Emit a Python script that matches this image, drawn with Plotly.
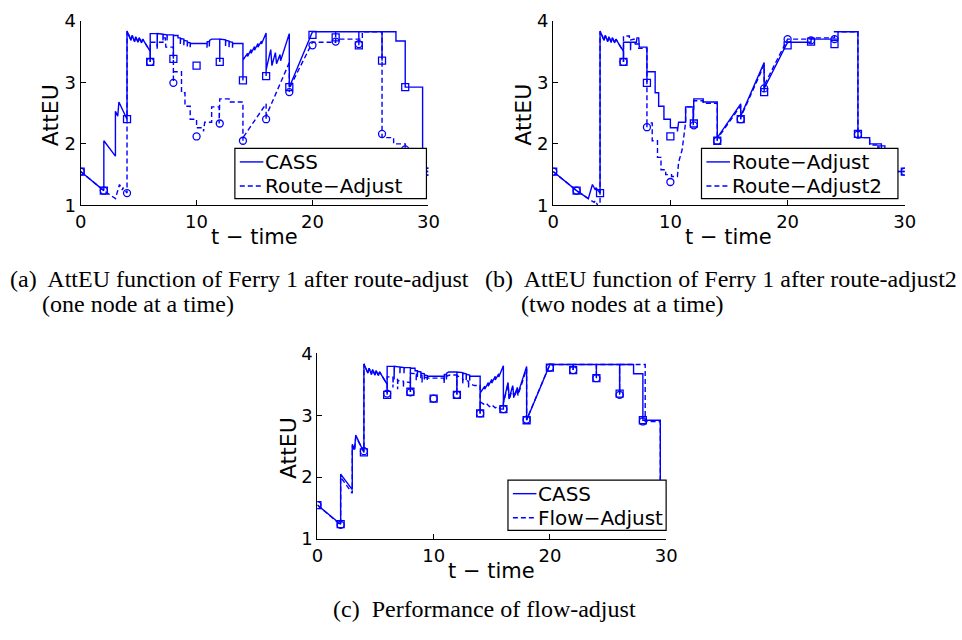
import plotly.graph_objects as go

W, H = 962, 640
BLUE = "#0000ff"

# ---------------- data ----------------
MARK_T = [0, 2, 4, 6, 8, 10, 12, 14, 16, 18, 20, 22, 24, 26, 28, 30]

CASS_MARK = [1.55, 1.24, 2.40, 3.33, 3.38, 3.27, 3.33, 3.03, 3.10, 2.92, 3.77, 3.73, 3.60, 3.35, 2.92, 1.55]
RA_MARK = [1.55, 1.24, 1.20, 3.33, 2.99, 2.12, 2.33, 2.05, 2.40, 2.84, 3.60, 3.66, 3.62, 2.16, 1.91, 1.55]
RA2_MARK = [1.55, 1.24, 0.90, 3.33, 2.27, 1.38, 2.30, 2.05, 2.40, 2.90, 3.70, 3.68, 3.70, 2.15, 1.61, 1.55]
FLOW_MARK = [1.55, 1.23, 2.42, 3.35, 3.37, 3.27, 3.33, 3.03, 3.10, 2.93, 3.77, 3.73, 3.60, 3.33, 2.90, 1.55]

CASS_T = [0, 2, 2, 3, 3, 3.2, 3.3, 4, 4,
          4.35, 4.45, 4.65, 4.75, 4.95, 5.05, 5.25, 5.35, 6, 6, 6,
          6.6, 6.6, 6.62, 7.1, 7.1, 7.12, 7.45, 7.45, 7.47, 8, 8, 8,
          8.4, 8.4, 8.6, 8.6, 8.62, 8.9, 8.9, 8.92, 9.2, 9.2, 9.22, 9.45, 9.45, 9.47,
          10.9, 10.9, 10.92, 11.1, 11.1, 11.12, 11.3, 12, 12, 12,
          12.5, 12.5, 12.52, 12.8, 12.8, 12.82, 13.1, 13.1, 13.12, 14, 14, 14,
          14.4, 14.4, 14.7, 14.7, 15.0, 15.0, 15.3, 15.3, 15.6, 15.6, 16, 16, 16,
          16.4, 16.5, 16.8, 16.9, 17.2, 17.25, 18, 18, 20,
          22, 22, 22, 24, 24, 24, 26, 26, 26, 27.2, 27.2, 28, 28, 29.5, 29.5, 30]
CASS_Y = [1.55, 1.24, 2.05, 1.80, 2.53, 2.45, 2.68, 2.40, 3.83,
          3.68, 3.76, 3.66, 3.74, 3.65, 3.72, 3.64, 3.70, 3.50, 3.33, 3.79,
          3.79, 3.58, 3.79, 3.78, 3.68, 3.78, 3.77, 3.68, 3.77, 3.77, 3.38, 3.76,
          3.76, 3.72, 3.72, 3.62, 3.71, 3.70, 3.60, 3.68, 3.67, 3.58, 3.65, 3.64, 3.57, 3.63,
          3.63, 3.56, 3.66, 3.66, 3.58, 3.68, 3.70, 3.70, 3.33, 3.70,
          3.69, 3.59, 3.68, 3.67, 3.57, 3.66, 3.65, 3.56, 3.63, 3.63, 3.03, 3.36,
          3.47, 3.42, 3.53, 3.47, 3.58, 3.52, 3.63, 3.57, 3.67, 3.62, 3.80, 3.10, 3.20,
          3.53, 3.27, 3.48, 3.30, 3.45, 3.35, 3.79, 2.92, 3.82,
          3.82, 3.73, 3.82, 3.82, 3.60, 3.82, 3.82, 3.35, 3.82, 3.82, 3.67, 3.67, 2.92, 2.92, 1.55, 1.55]

RA_T = [0, 2, 3, 3.35, 3.6, 3.65, 4, 4,
        4.35, 4.45, 4.65, 4.75, 4.95, 5.05, 5.25, 5.35, 6, 6, 6,
        6.6, 6.6, 6.62, 7.1, 7.15, 7.3, 7.3, 7.35, 8, 8, 8,
        8.7, 8.7, 9.0, 9.0, 9.45, 9.45, 10, 10, 10.6, 10.6, 10.7, 11.3, 11.3, 11.95, 11.95, 12,
        12.8, 12.8, 14, 14, 14, 16, 16, 16, 18, 18, 18, 20,
        22, 22, 24.3, 24.3, 26, 26, 26, 27, 27, 28, 28, 29.3, 29.3, 30]
RA_Y = [1.55, 1.24, 1.11, 1.34, 1.25, 1.29, 1.20, 3.83,
        3.68, 3.76, 3.66, 3.74, 3.65, 3.72, 3.64, 3.70, 3.50, 3.33, 3.65,
        3.65, 3.52, 3.65, 3.65, 3.72, 3.72, 3.60, 3.57, 3.57, 3.00, 3.17,
        3.17, 2.83, 2.83, 2.61, 2.61, 2.40, 2.40, 2.26, 2.26, 2.20, 2.35, 2.35, 2.60, 2.60, 2.33, 2.73,
        2.73, 2.68, 2.68, 2.05, 2.10, 2.65, 2.40, 2.45, 3.32, 2.84, 2.90, 3.65,
        3.65, 3.70, 3.70, 3.82, 3.82, 2.15, 2.10, 2.10, 2.00, 2.00, 1.90, 1.90, 1.55, 1.55]

RA2_T = [0, 2, 3, 3.5, 3.6, 4, 4,
         4.35, 4.45, 4.65, 4.75, 4.95, 5.05, 5.25, 5.35, 6, 6, 6,
         6.5, 6.5, 6.9, 7.0, 7.3, 7.3, 8, 8, 8,
         8.45, 8.45, 8.9, 8.9, 9.2, 9.2, 9.6, 9.6, 10.1, 10.1, 10.6, 10.7, 11.0, 11.3, 11.3, 11.95, 11.95, 12,
         12.8, 12.8, 14, 14, 14, 16, 16, 16, 18, 18, 18, 20,
         22, 22, 24, 24, 26, 26, 26, 27, 27, 27.8, 27.8, 28.3, 28.3, 29, 29, 30]
RA2_Y = [1.55, 1.24, 1.11, 1.05, 1.08, 0.92, 3.83,
         3.68, 3.76, 3.66, 3.74, 3.65, 3.72, 3.64, 3.70, 3.50, 3.33, 3.75,
         3.75, 3.68, 3.70, 3.62, 3.62, 3.55, 3.55, 2.27, 2.34,
         2.34, 2.05, 2.05, 1.78, 1.78, 1.58, 1.58, 1.50, 1.50, 1.47, 1.47, 1.70, 1.90, 2.35, 2.60, 2.60, 2.30, 2.70,
         2.70, 2.66, 2.66, 2.05, 2.08, 2.62, 2.40, 2.43, 3.28, 2.90, 2.95, 3.70,
         3.70, 3.72, 3.72, 3.82, 3.82, 2.15, 2.10, 2.10, 1.98, 1.98, 1.80, 1.80, 1.62, 1.62, 1.55, 1.55]

FLOW_T = [0, 2, 2, 3, 3, 3.2, 3.3, 4, 4,
          4.35, 4.45, 4.65, 4.75, 4.95, 5.05, 5.25, 5.35, 6, 6, 6,
          6.5, 6.5, 6.52, 6.9, 6.9, 6.92, 7.4, 7.4, 7.42, 8, 8, 8,
          8.5, 8.5, 8.52, 9.0, 9.0, 9.02, 9.6, 10.9, 10.9, 10.92, 11.4, 12, 12, 12,
          12.5, 12.5, 12.52, 13.0, 13.0, 13.02, 13.5, 14, 14, 14,
          14.3, 14.5, 14.8, 15.0, 15.3, 15.5, 15.8, 16, 16,
          16.4, 16.5, 16.8, 16.9, 17.2, 17.25, 18, 18, 20,
          22, 22, 22, 24, 24, 24, 26, 26, 26, 28.2, 28.2, 29.5, 29.5, 30]
FLOW_Y = [1.55, 1.23, 2.00, 1.74, 2.50, 2.43, 2.65, 2.42, 3.83,
          3.68, 3.76, 3.66, 3.74, 3.65, 3.72, 3.64, 3.70, 3.50, 3.35, 3.62,
          3.62, 3.45, 3.60, 3.58, 3.42, 3.56, 3.55, 3.45, 3.54, 3.53, 3.37, 3.68,
          3.67, 3.56, 3.66, 3.64, 3.53, 3.62, 3.60, 3.60, 3.52, 3.62, 3.65, 3.65, 3.33, 3.64,
          3.60, 3.50, 3.58, 3.55, 3.45, 3.52, 3.48, 3.48, 3.03, 3.22,
          3.18, 3.20, 3.14, 3.17, 3.12, 3.14, 3.10, 3.10, 3.20,
          3.50, 3.25, 3.45, 3.28, 3.42, 3.32, 3.75, 2.93, 3.82,
          3.82, 3.73, 3.82, 3.82, 3.60, 3.82, 3.82, 3.33, 3.82, 3.82, 2.90, 2.90, 1.55, 1.55]

X_TICKS = [0, 10, 20, 30]
Y_TICKS = [1, 2, 3, 4]

# ---------------- panel geometry (pixels) ----------------
PANELS = {
    "a": dict(x0=76, x1=430, y0=10, y1=201, xa="x", ya="y",
              leg=(233, 428, 142, 194), names=("CASS", "Route\u2212Adjust")),
    "b": dict(x0=557, x1=915, y0=10, y1=201, xa="x2", ya="y2",
              leg=(708, 908, 142, 194), names=("Route\u2212Adjust", "Route\u2212Adjust2")),
    "c": dict(x0=317, x1=672, y0=354, y1=546, xa="x3", ya="y3",
              leg=(511, 672, 485, 537), names=("CASS", "Flow\u2212Adjust")),
}

DASH = "5px,3px"
LW = 1.4
fig = go.Figure()


def add_line(panel, t, y, dashed):
    p = PANELS[panel]
    fig.add_trace(go.Scatter(
        x=t, y=y, mode="lines", showlegend=False,
        line=dict(color=BLUE, width=LW, dash=DASH if dashed else "solid"),
        xaxis=p["xa"], yaxis=p["ya"], hoverinfo="skip"))


def add_marks(panel, t, y, symbol):
    p = PANELS[panel]
    fig.add_trace(go.Scatter(
        x=t, y=y, mode="markers", showlegend=False,
        marker=dict(symbol=symbol, size=7, color=BLUE, line=dict(color=BLUE, width=1.3)),
        xaxis=p["xa"], yaxis=p["ya"], hoverinfo="skip"))


# (a) CASS vs route-adjust
add_line("a", CASS_T, CASS_Y, False)
add_line("a", RA_T, RA_Y, True)
add_marks("a", MARK_T, CASS_MARK, "square-open")
add_marks("a", MARK_T, RA_MARK, "circle-open")

# (b) route-adjust vs route-adjust2
add_line("b", RA_T, RA_Y, False)
add_line("b", RA2_T, RA2_Y, True)
add_marks("b", MARK_T, RA_MARK, "square-open")
add_marks("b", MARK_T, RA2_MARK, "circle-open")

# (c) CASS vs flow-adjust
add_line("c", CASS_T, CASS_Y, False)
add_line("c", FLOW_T, FLOW_Y, True)
add_marks("c", MARK_T, CASS_MARK, "square-open")
add_marks("c", MARK_T, FLOW_MARK, "circle-open")

SANS = "DejaVu Sans, Verdana, sans-serif"
SERIF = "Liberation Serif, Times New Roman, serif"

layout = dict(
    width=W, height=H, margin=dict(l=0, r=0, t=0, b=0),
    paper_bgcolor="white", plot_bgcolor="white",
    font=dict(family=SANS, color="black"),
    annotations=[], shapes=[],
)


def px_x(v):
    return v / W


def px_y(v):
    return 1 - v / H


for key, p in PANELS.items():
    xname = "xaxis" + p["xa"][1:]
    yname = "yaxis" + p["ya"][1:]
    common = dict(showline=True, linecolor="black", linewidth=1, mirror=False,
                  showgrid=False, zeroline=False, ticks="inside", ticklen=5,
                  tickcolor="black", tickwidth=1, tickfont=dict(size=18, family=SANS))
    layout[xname] = dict(domain=[px_x(p["x0"]), px_x(p["x1"])], anchor=p["ya"],
                         range=[0, 30], tickvals=X_TICKS, **common)
    layout[yname] = dict(domain=[px_y(p["y1"]), px_y(p["y0"])], anchor=p["xa"],
                         range=[1, 4], tickvals=Y_TICKS, **common)

    # legend box with line samples
    lx0, lx1, ly0, ly1 = p["leg"]
    layout["shapes"].append(dict(
        type="rect", xref="paper", yref="paper", layer="above",
        x0=px_x(lx0), x1=px_x(lx1), y0=px_y(ly1), y1=px_y(ly0),
        line=dict(color="black", width=1.2), fillcolor="white"))
    rows = [ly0 + (ly1 - ly0) * 0.27, ly0 + (ly1 - ly0) * 0.75]
    for i, (name, ry) in enumerate(zip(p["names"], rows)):
        layout["shapes"].append(dict(
            type="line", xref="paper", yref="paper", layer="above",
            x0=px_x(lx0 + 5), x1=px_x(lx0 + 29), y0=px_y(ry), y1=px_y(ry),
            line=dict(color=BLUE, width=LW, dash="solid" if i == 0 else DASH)))
        layout["annotations"].append(dict(
            text=name, xref="paper", yref="paper", x=px_x(lx0 + 29), y=px_y(ry),
            xanchor="left", yanchor="middle", showarrow=False,
            font=dict(size=20, family=SANS)))

    # axis titles
    layout["annotations"].append(dict(
        text="t \u2212 time", xref="paper", yref="paper",
        x=px_x((p["x0"] + p["x1"]) / 2), y=px_y(p["y1"] + 33),
        xanchor="center", yanchor="middle", showarrow=False,
        font=dict(size=21, family=SANS)))
    layout["annotations"].append(dict(
        text="AttEU", xref="paper", yref="paper", textangle=-90,
        x=px_x(p["x0"] - 30), y=px_y((p["y0"] + p["y1"]) / 2 + 2),
        xanchor="center", yanchor="middle", showarrow=False,
        font=dict(size=22, family=SANS)))

captions = [
    ("(a)  AttEU function of Ferry 1 after route-adjust", 2, 277),
    ("(one node at a time)", 35, 303),
    ("(b)  AttEU function of Ferry 1 after route-adjust2", 486, 277),
    ("(two nodes at a time)", 522, 303),
    ("(c)  Performance of flow-adjust", 331, 618),
]
for text, cx, cy in captions:
    layout["annotations"].append(dict(
        text=text, xref="paper", yref="paper", x=px_x(cx), y=px_y(cy),
        xanchor="left", yanchor="middle", showarrow=False,
        font=dict(size=24, family=SERIF)))

fig.update_layout(**layout)
fig.write_html("out.html")
